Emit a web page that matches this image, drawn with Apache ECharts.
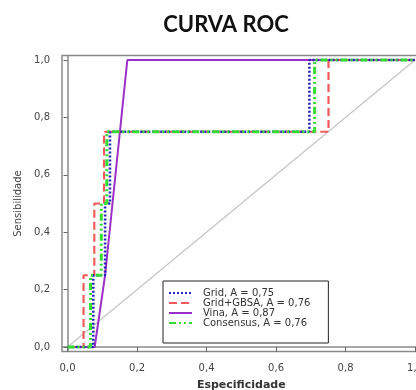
<!DOCTYPE html>
<html>
<head>
<meta charset="utf-8">
<script src="https://cdn.jsdelivr.net/npm/echarts@6/dist/echarts.min.js"></script>
<style>
html,body{margin:0;padding:0;background:#fff;}
#chart{width:416px;height:390px;}
</style>
</head>
<body>
<div id="chart"></div>
<script>
// ---- data ----
const tickValues = [0, 0.2, 0.4, 0.6, 0.8, 1.0];

const gridX = [0, 0.074, 0.074, 0.108, 0.108, 0.122, 0.122, 0.696, 0.696, 1.0];
const gridY = [0, 0, 0.25, 0.25, 0.5, 0.5, 0.75, 0.75, 1.0, 1.0];

const gbsaX = [0, 0.046, 0.046, 0.077, 0.077, 0.105, 0.105, 0.751, 0.751, 1.0];
const gbsaY = [0, 0, 0.25, 0.25, 0.5, 0.5, 0.75, 0.75, 1.0, 1.0];

const vinaX = [0, 0.078, 0.108, 0.172, 1.0];
const vinaY = [0, 0, 0.25, 1.0, 1.0];

const consX = [0, 0.066, 0.066, 0.097, 0.097, 0.113, 0.113, 0.711, 0.711, 1.0];
const consY = [0, 0, 0.25, 0.25, 0.5, 0.5, 0.75, 0.75, 1.0, 1.0];

const refX = [0, 1];
const refY = [0, 1];

const seriesNames = ['Grid, A = 0,75', 'Grid+GBSA, A = 0,76', 'Vina, A = 0,87', 'Consensus, A = 0,76'];

function pairs(xs, ys) { return xs.map((x, i) => [x, ys[i]]); }
const fmt = v => v.toFixed(1).replace('.', ',');

const chart = echarts.init(document.getElementById('chart'));
const axisFont = { fontFamily: 'DejaVu Sans', fontSize: 10, color: '#444' };

chart.setOption({
  animation: false,
  backgroundColor: '#fff',
  title: {
    text: 'CURVA ROC',
    left: 221, top: 9, textAlign: 'center',
    textStyle: { fontFamily: 'Lato', fontWeight: 'bold', fontSize: 22, color: '#111' }
  },
  grid: {
    left: 62, top: 55.4, width: 358.6, height: 296.2,
    outerBoundsMode: 'none', containLabel: false,
    show: true, borderColor: '#8a8a8a', borderWidth: 1.5, backgroundColor: '#fff'
  },
  xAxis: {
    type: 'value', min: -0.016, max: 1.016,
    name: 'Especificidade', nameLocation: 'middle', nameGap: 28,
    nameTextStyle: { fontFamily: 'DejaVu Sans', fontSize: 11, fontWeight: 'bold', color: '#333' },
    axisLine: { show: true, lineStyle: { color: '#8a8a8a', width: 1.5 } },
    axisTick: { show: true, customValues: tickValues, length: 5, lineStyle: { color: '#666' } },
    axisLabel: { customValues: tickValues, formatter: fmt, margin: 12, ...axisFont },
    splitLine: { show: false }
  },
  yAxis: {
    type: 'value', min: -0.016, max: 1.016,
    name: 'Sensibilidade', nameLocation: 'middle', nameGap: 36,
    nameTextStyle: { fontFamily: 'DejaVu Sans', fontSize: 10, color: '#444' },
    axisLine: { show: true, lineStyle: { color: '#8a8a8a', width: 1.5 } },
    axisTick: { show: true, customValues: tickValues, length: 4, lineStyle: { color: '#666' } },
    axisLabel: { customValues: tickValues, formatter: fmt, margin: 12, ...axisFont },
    splitLine: { show: false }
  },
  legend: {
    orient: 'vertical', left: 163, top: 281,
    data: seriesNames,
    itemWidth: 23, itemHeight: 9, itemGap: 0,
    padding: [7, 18, 15, 5],
    borderColor: '#222', borderWidth: 1, backgroundColor: '#fff',
    itemStyle: { opacity: 0 },
    textStyle: { fontFamily: 'DejaVu Sans', fontSize: 10, color: '#333', lineHeight: 9, padding: [0, 0, 0, 6] }
  },
  series: [
    {
      name: 'ref', type: 'line', data: pairs(refX, refY), symbol: 'none', silent: true,
      lineStyle: { color: '#c4c4c4', width: 1.2 }, z: 1
    },
    {
      name: seriesNames[2], type: 'line', data: pairs(vinaX, vinaY), symbol: 'none',
      color: '#9a30c8', lineStyle: { color: '#9a30c8', width: 2 }, z: 2
    },
    {
      name: seriesNames[1], type: 'line', data: pairs(gbsaX, gbsaY), symbol: 'none',
      color: '#f05a5a', lineStyle: { color: '#f05a5a', width: 2.2, type: [8, 4] }, z: 3
    },
    {
      name: seriesNames[0], type: 'line', data: pairs(gridX, gridY), symbol: 'none',
      color: '#2424b8', lineStyle: { color: '#2424b8', width: 2.6, type: [2, 2] }, z: 4
    },
    {
      name: seriesNames[3], type: 'line', data: pairs(consX, consY), symbol: 'none',
      color: '#33dd33', lineStyle: { color: '#33dd33', width: 3, type: [7, 3, 2, 3, 2, 3] }, z: 5
    }
  ]
});
</script>
</body>
</html>
